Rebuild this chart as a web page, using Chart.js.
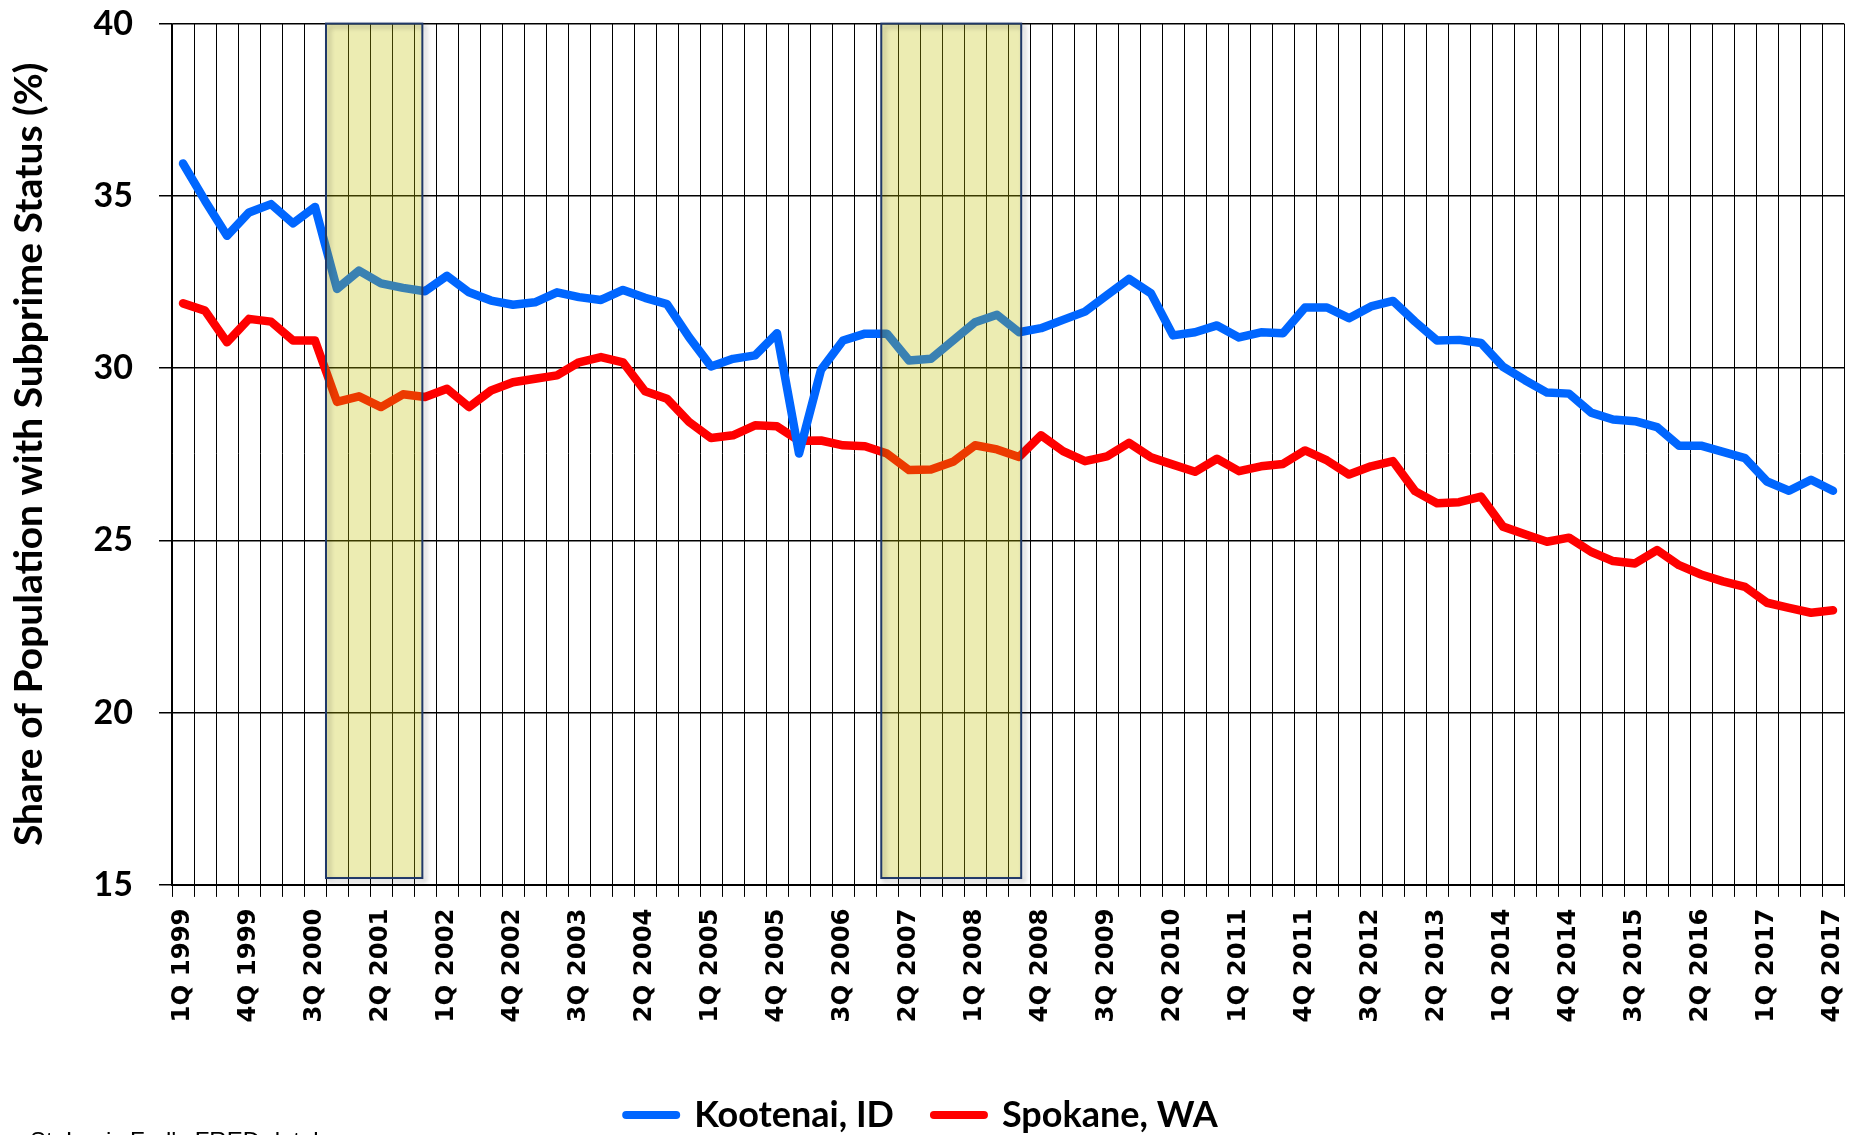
<!DOCTYPE html>
<html><head><meta charset="utf-8">
<script src="https://cdn.jsdelivr.net/npm/chart.js@4"></script>
<style>html,body{margin:0;padding:0;background:#fff;}canvas{display:block}</style>
</head><body>
<canvas id="c" width="1852" height="1135"></canvas>
<script>
const categories = [
  "1Q 1999","2Q 1999","3Q 1999","4Q 1999","1Q 2000","2Q 2000","3Q 2000","4Q 2000",
  "1Q 2001","2Q 2001","3Q 2001","4Q 2001","1Q 2002","2Q 2002","3Q 2002","4Q 2002",
  "1Q 2003","2Q 2003","3Q 2003","4Q 2003","1Q 2004","2Q 2004","3Q 2004","4Q 2004",
  "1Q 2005","2Q 2005","3Q 2005","4Q 2005","1Q 2006","2Q 2006","3Q 2006","4Q 2006",
  "1Q 2007","2Q 2007","3Q 2007","4Q 2007","1Q 2008","2Q 2008","3Q 2008","4Q 2008",
  "1Q 2009","2Q 2009","3Q 2009","4Q 2009","1Q 2010","2Q 2010","3Q 2010","4Q 2010",
  "1Q 2011","2Q 2011","3Q 2011","4Q 2011","1Q 2012","2Q 2012","3Q 2012","4Q 2012",
  "1Q 2013","2Q 2013","3Q 2013","4Q 2013","1Q 2014","2Q 2014","3Q 2014","4Q 2014",
  "1Q 2015","2Q 2015","3Q 2015","4Q 2015","1Q 2016","2Q 2016","3Q 2016","4Q 2016",
  "1Q 2017","2Q 2017","3Q 2017","4Q 2017"
];
const kootenai = [
  35.94,34.86,33.84,34.52,34.76,34.20,34.68,32.30,32.83,32.46,32.33,32.23,
  32.68,32.20,31.96,31.84,31.91,32.20,32.06,31.98,32.27,32.04,31.86,30.90,
  30.05,30.27,30.37,31.01,27.52,29.95,30.80,31.00,31.00,30.22,30.27,30.80,
  31.33,31.55,31.04,31.16,31.40,31.64,32.12,32.59,32.17,30.95,31.04,31.24,
  30.89,31.04,31.01,31.76,31.76,31.45,31.79,31.95,31.35,30.80,30.82,30.73,
  30.04,29.65,29.29,29.26,28.71,28.51,28.46,28.29,27.75,27.75,27.57,27.39,
  26.71,26.44,26.76,26.44
];
const spokane = [
  31.88,31.67,30.75,31.43,31.35,30.80,30.80,29.02,29.18,28.87,29.24,29.16,
  29.40,28.87,29.35,29.59,29.69,29.79,30.17,30.32,30.17,29.33,29.11,28.44,
  27.97,28.05,28.34,28.31,27.89,27.90,27.76,27.73,27.52,27.04,27.06,27.28,
  27.76,27.64,27.42,28.05,27.59,27.30,27.44,27.83,27.41,27.20,26.99,27.37,
  27.01,27.15,27.22,27.61,27.32,26.91,27.15,27.30,26.43,26.08,26.11,26.27,
  25.40,25.18,24.96,25.08,24.67,24.40,24.33,24.72,24.28,24.01,23.81,23.65,
  23.19,23.04,22.90,22.97
];
const yTicks = [15, 20, 25, 30, 35, 40];
// shaded periods, in category-index units
const shadeStart = [6.5, 31.74];
const shadeEnd = [10.88, 38.1];
const shadeFloor = 15.2;
const seriesNames = ["Kootenai, ID", "Spokane, WA"];
const yTitle = "Share of Population with Subprime Status (%)";
const sourceNote = "St. Louis Fed's FRED database";

const BLUE = '#0066FF', RED = '#FF0000';

const shadePlugin = {
  id: 'shade',
  afterDatasetsDraw(chart) {
    const {ctx, scales: {x, y}} = chart;
    ctx.save();
    shadeStart.forEach((s, i) => {
      const x0 = x.getPixelForValue(s), x1 = x.getPixelForValue(shadeEnd[i]);
      const yT = y.getPixelForValue(y.max), yB = y.getPixelForValue(shadeFloor);
      ctx.fillStyle = 'rgba(192,192,0,0.3)';
      ctx.fillRect(x0, yT, x1 - x0, yB - yT);
      ctx.save();
      ctx.shadowColor = 'rgba(0,0,0,0.3)';
      ctx.shadowBlur = 5; ctx.shadowOffsetX = 3; ctx.shadowOffsetY = 3;
      ctx.strokeStyle = '#1F3868';
      ctx.lineWidth = 2;
      ctx.strokeRect(x0, yT, x1 - x0, yB - yT);
      ctx.restore();
    });
    ctx.restore();
  }
};
const sourcePlugin = {
  id: 'source',
  afterDraw(chart) {
    const ctx = chart.ctx;
    ctx.save();
    ctx.font = '24px "Liberation Sans"';
    ctx.fillStyle = '#000';
    ctx.textBaseline = 'alphabetic';
    ctx.fillText(sourceNote, 30, 1149);
    ctx.restore();
  }
};

new Chart(document.getElementById('c'), {
  type: 'line',
  data: {
    labels: categories,
    datasets: [
      { label: seriesNames[0], data: kootenai, borderColor: BLUE, backgroundColor: BLUE,
        borderWidth: 8.5, pointRadius: 0, tension: 0, borderJoinStyle: 'round', borderCapStyle: 'round',
        pointStyle: 'line', pointBorderColor: BLUE, pointBorderWidth: 8 },
      { label: seriesNames[1], data: spokane, borderColor: RED, backgroundColor: RED,
        borderWidth: 8.5, pointRadius: 0, tension: 0, borderJoinStyle: 'round', borderCapStyle: 'round',
        pointStyle: 'line', pointBorderColor: RED, pointBorderWidth: 8 }
    ]
  },
  options: {
    responsive: false,
    devicePixelRatio: 1,
    animation: false,
    layout: { padding: { top: 0, right: 8, left: 0, bottom: -8 } },
    plugins: {
      tooltip: { enabled: false },
      legend: {
        position: 'bottom',
        labels: {
          usePointStyle: true,
          pointStyleWidth: 50,
          padding: 40,
          color: '#000',
          font: { family: 'Lato', weight: 'bold', size: 36 },
          generateLabels(chart) {
            const items = Chart.defaults.plugins.legend.labels.generateLabels(chart);
            return items.map(it => Object.assign(it, { pointStyle: 'line', lineCap: 'round', lineWidth: 8 }));
          }
        }
      }
    },
    scales: {
      x: {
        offset: true,
        grid: { offset: true, color: '#000', lineWidth: 1, tickLength: 12, drawTicks: true },
        border: { color: '#000', width: 2 },
        ticks: {
          autoSkip: false, minRotation: 90, maxRotation: 90, padding: 11.5, color: '#000',
          font: { family: 'DejaVu Sans', weight: 'bold', size: 24.4 },
          callback: function(v, i) { return i % 3 === 0 ? this.getLabelForValue(v) : ''; }
        },
        afterFit(s) { s.height += 23; s.paddingLeft = 0; s.paddingRight = 0; }
      },
      y: {
        min: 15, max: 40,
        afterBuildTicks(s) { s.ticks = yTicks.map(v => ({ value: v })); },
        afterFit(s) { s.width = 172; s.paddingTop = 23.6; },
        grid: { color: '#000', lineWidth: 1.5, tickLength: 13 },
        border: { color: '#000', width: 1.5 },
        ticks: { padding: 26, color: '#000', font: { family: 'Lato', weight: 'bold', size: 34 } },
        title: { display: true, text: yTitle, color: '#000', padding: { top: 6, bottom: 10 },
          font: { family: 'Lato', weight: 'bold', size: 39 } }
      }
    }
  },
  plugins: [shadePlugin, sourcePlugin]
});
</script>
</body></html>
